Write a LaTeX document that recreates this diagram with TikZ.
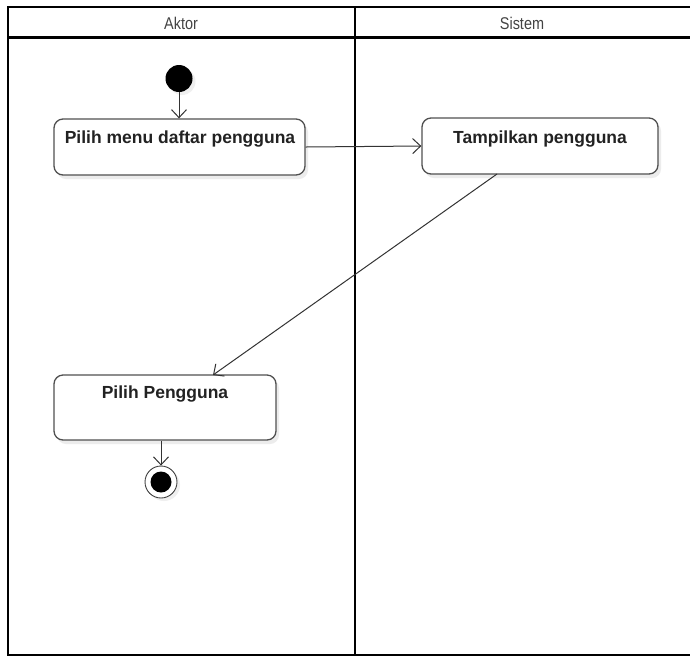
\documentclass[tikz,border=0pt]{standalone}
\usepackage{fontspec}
\setmainfont{Liberation Sans}
\usetikzlibrary{shadows,arrows.meta}
\definecolor{linegray}{HTML}{333333}
\definecolor{boxgray}{HTML}{505050}
\definecolor{txt}{HTML}{222222}
\tikzset{
  lane/.style={line width=2.4pt, black},
  lanetitle/.style={font=\fontsize{17}{17}\selectfont, text=txt!85, anchor=base, inner sep=0pt},
  action/.style={draw=boxgray, line width=1.3pt, rounded corners=9pt, fill=white,
    drop shadow={shadow xshift=3pt, shadow yshift=-4pt, fill=black!12, opacity=0.6}},
  acttext/.style={font=\bfseries\fontsize{17.5}{17.5}\selectfont, text=txt, anchor=base, inner sep=0pt},
  flow/.style={draw=linegray, line width=1pt, -{Straight Barb[length=8pt,width=15pt,line width=1pt]}},
  startnode/.style={circle, fill=black, minimum size=27pt, inner sep=0pt,
    drop shadow={shadow xshift=3pt, shadow yshift=-3pt, fill=black!10, opacity=0.6}},
}
\begin{document}
\begin{tikzpicture}[x=1pt,y=-1pt]
\useasboundingbox (0,0) rectangle (690,657);
\fill[white] (0,0) rectangle (690,657);

% swimlanes
\draw[lane] (700,7) -- (8,7) -- (8,655) -- (700,655);
\draw[lane] (8,37.5) -- (700,37.5);
\draw[lane] (355,7) -- (355,655);
\node[lanetitle] (laneA) at (181,29) {\scalebox{0.85}[1]{Aktor}};
\node[lanetitle] (laneS) at (522,29) {\scalebox{0.85}[1]{Sistem}};

% actions
\node[action, minimum width=251pt, minimum height=56pt, inner sep=0pt] (a1) at (179.5,147) {};
\node[acttext] (t1) at (180,143) {Pilih menu daftar pengguna};
\node[action, minimum width=236pt, minimum height=56pt, inner sep=0pt] (a2) at (540,146) {};
\node[acttext] (t2) at (540,143) {Tampilkan pengguna};
\node[action, minimum width=222pt, minimum height=65pt, inner sep=0pt] (a3) at (165,407.5) {};
\node[acttext] (t3) at (165,398) {Pilih Pengguna};

% initial and final nodes
\node[startnode] (init) at (179,78.5) {};
\node[circle, draw=black!75, line width=0.9pt, fill=white, minimum size=32pt, inner sep=0pt,
  drop shadow={shadow xshift=3pt, shadow yshift=-3pt, fill=black!10, opacity=0.6}] (fin) at (161,482) {};
\node[circle, fill=black, minimum size=21pt, inner sep=0pt] (finc) at (fin) {};

% flows
\draw[flow] (init) -- (a1.north -| init);
\draw[flow] (a1.east) -- (a2.west);
\draw[flow] (497,174) coordinate (d0) -- (213,375) coordinate (d1);
\draw[flow] (a3.south -| fin) -- (fin.north);
\end{tikzpicture}
\end{document}
